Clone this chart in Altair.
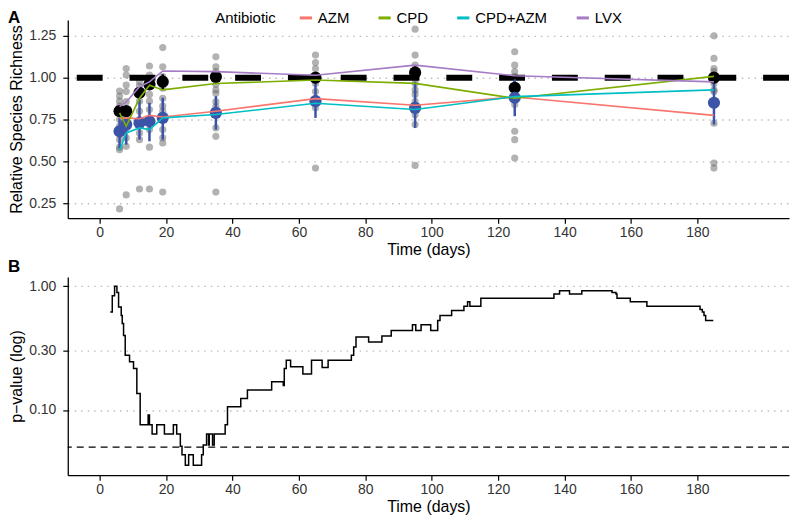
import altair as alt
import pandas as pd

FONT = "Liberation Sans"

# ---------------- Panel A data ----------------
days = [6, 8, 12, 15, 19, 35, 65, 95, 125, 185]

sample_values = [
    [0.92, 0.89, 0.86, 0.83, 0.79, 0.75, 0.71, 0.66, 0.63, 0.585, 0.57, 0.216],
    [1.055, 1.016, 0.956, 0.917, 0.857, 0.80, 0.76, 0.70, 0.64, 0.59, 0.30],
    [0.976, 0.95, 0.90, 0.86, 0.80, 0.75, 0.72, 0.67, 0.63, 0.335],
    [1.07, 1.016, 0.956, 0.90, 0.86, 0.81, 0.76, 0.69, 0.585, 0.335],
    [1.18, 1.065, 1.006, 0.937, 0.877, 0.83, 0.80, 0.69, 0.64, 0.61, 0.317],
    [1.125, 1.065, 1.036, 0.96, 0.927, 0.907, 0.857, 0.827, 0.70, 0.65, 0.317],
    [1.135, 1.09, 1.055, 1.006, 0.966, 0.917, 0.877, 0.857, 0.82, 0.46],
    [1.29, 1.135, 1.075, 1.0, 0.966, 0.927, 0.90, 0.857, 0.778, 0.72, 0.476],
    [1.155, 1.075, 1.036, 1.006, 0.956, 0.877, 0.84, 0.68, 0.63, 0.52],
    [1.25, 1.115, 1.055, 1.036, 1.006, 0.966, 0.927, 0.917, 0.728, 0.49, 0.46],
]

black_mean = [0.80, 0.80, 0.91, 0.96, 0.976, 1.005, 1.0, 1.03, 0.94, 1.0]
black_lo = [0.78, 0.77, 0.88, 0.93, 0.93, 0.98, 0.97, 0.99, 0.89, 0.97]
black_hi = [0.82, 0.83, 0.94, 0.99, 1.02, 1.03, 1.03, 1.07, 0.99, 1.03]

blue_mean = [0.68, 0.72, 0.73, 0.74, 0.76, 0.79, 0.86, 0.82, 0.88, 0.85]
blue_lo = [0.58, 0.60, 0.63, 0.62, 0.63, 0.69, 0.76, 0.70, 0.77, 0.72]
blue_hi = [0.76, 0.82, 0.87, 0.85, 0.88, 0.89, 0.976, 0.976, 0.99, 1.0]

antibiotics = ["AZM", "CPD", "CPD+AZM", "LVX"]
antibiotic_colors = ["#F8766D", "#7CAE00", "#00BFC4", "#A57CC5"]
azm_mean = [0.755, 0.76, 0.755, 0.775, 0.765, 0.80, 0.875, 0.835, 0.885, 0.775]
cpd_mean = [0.79, 0.71, 0.877, 0.955, 0.927, 0.965, 0.986, 0.966, 0.877, 1.008]
cpd_azm_mean = [0.565, 0.67, 0.70, 0.69, 0.76, 0.78, 0.847, 0.81, 0.887, 0.927]
lvx_mean = [0.827, 0.855, 0.946, 0.975, 1.04, 1.036, 1.015, 1.075, 1.012, 0.975]

richness_ticks = [0.25, 0.50, 0.75, 1.00, 1.25]
time_ticks = [0, 20, 40, 60, 80, 100, 120, 140, 160, 180]

# ---------------- Panel B data ----------------
p_days = [3.2, 3.8, 4.5, 5.2, 5.7, 6.5, 6.8, 7.2, 7.7, 9.0, 10.2, 11.2, 12.2,
          14.6, 15.0, 15.8, 17.2, 19.5, 22.2, 23.2, 24.3, 24.8, 25.8, 26.8,
          28.2, 30.7, 31.2, 32.2, 32.8, 33.0, 34.0, 34.5, 37.8, 38.5, 42.5,
          44.5, 51.8, 55.3, 55.6, 56.2, 57.5, 61.2, 63.8, 67.0, 68.8, 75.8,
          76.5, 77.2, 81.0, 85.0, 87.8, 94.2, 95.2, 96.8, 99.7, 101.8, 102.5,
          106.0, 109.7, 110.8, 111.5, 114.8, 136.8, 138.5, 141.5, 145.2,
          154.3, 155.5, 155.8, 159.8, 164.8, 180.8, 181.5, 182.0, 182.5, 184.8]
p_values = [0.62, 0.84, 1.0, 0.89, 0.68, 0.58, 0.50, 0.40, 0.277, 0.245, 0.216,
            0.136, 0.076, 0.091, 0.076, 0.064, 0.076, 0.064, 0.076, 0.064,
            0.0508, 0.0435, 0.0357, 0.0435, 0.0357, 0.0435, 0.052, 0.064,
            0.052, 0.064, 0.052, 0.064, 0.076, 0.106, 0.124, 0.145, 0.169,
            0.158, 0.216, 0.252, 0.224, 0.195, 0.252, 0.22, 0.252, 0.277,
            0.323, 0.389, 0.355, 0.397, 0.44, 0.489, 0.44, 0.489, 0.44, 0.53,
            0.58, 0.637, 0.69, 0.75, 0.69, 0.80, 0.867, 0.92, 0.867, 0.92,
            0.89, 0.867, 0.80, 0.75, 0.69, 0.65, 0.62, 0.58, 0.53, 0.53]
p_ticks = [0.1, 0.3, 1.0]
p_threshold = 0.05

# ---------------- tables ----------------
samples_df = pd.DataFrame(
    [{"day": d, "value": v} for d, vals in zip(days, sample_values) for v in vals]
)
means_df = pd.DataFrame({
    "day": days,
    "black_mean": black_mean, "black_lo": black_lo, "black_hi": black_hi,
    "blue_mean": blue_mean, "blue_lo": blue_lo, "blue_hi": blue_hi,
})
lines_df = pd.DataFrame(
    [{"day": d, "value": v, "Antibiotic": ab}
     for ab, series in zip(antibiotics, [azm_mean, cpd_mean, cpd_azm_mean, lvx_mean])
     for d, v in zip(days, series)]
)
p_df = pd.DataFrame({"day": p_days, "p": p_values})

W = 724
H = 199
XDOM = [-9.6, 207.6]
BLUE = "#3B54A8"

x_a = alt.X("day:Q", scale=alt.Scale(domain=XDOM, nice=False, zero=False),
            axis=alt.Axis(values=time_ticks, title="Time (days)", grid=False,
                          format="d"))
y_a = alt.Y("value:Q", scale=alt.Scale(domain=[0.161, 1.345], nice=False, zero=False),
            axis=alt.Axis(values=richness_ticks, format=".2f", grid=True,
                          title="Relative Species Richness"))

base_a = alt.Chart(samples_df)
gray_pts = base_a.mark_circle(size=52, color="#666666", opacity=0.5).encode(x=x_a, y=y_a)

hline = alt.Chart(pd.DataFrame({"value": [1.0]})).mark_rule(
    color="black", strokeWidth=6, strokeDash=[26, 27]
).encode(y=alt.Y("value:Q"))

mean_base = alt.Chart(means_df)
black_err = mean_base.mark_rule(color="black", strokeWidth=2.5).encode(
    x="day:Q", y="black_lo:Q", y2="black_hi:Q")
blue_err = mean_base.mark_rule(color=BLUE, strokeWidth=2.5).encode(
    x="day:Q", y="blue_lo:Q", y2="blue_hi:Q")
black_pts = mean_base.mark_circle(size=150, color="black", opacity=1).encode(
    x="day:Q", y="black_mean:Q")
blue_pts = mean_base.mark_circle(size=150, color=BLUE, opacity=1).encode(
    x="day:Q", y="blue_mean:Q")

lines = alt.Chart(lines_df).mark_line(strokeWidth=1.6).encode(
    x="day:Q", y="value:Q",
    color=alt.Color("Antibiotic:N",
                    scale=alt.Scale(domain=antibiotics, range=antibiotic_colors),
                    legend=alt.Legend(orient="none", direction="horizontal",
                                      legendX=148, legendY=-10, titleOrient="left",
                                      symbolType="stroke", symbolStrokeWidth=3,
                                      symbolSize=150, columnPadding=22,
                                      titlePadding=22, labelFontSize=15,
                                      titleFontSize=15, titleFontWeight="normal",
                                      labelFont=FONT, titleFont=FONT,
                                      titleColor="black", labelColor="black",
                                      padding=0, offset=0)))

label_a = alt.Chart(pd.DataFrame({"t": ["A"]})).mark_text(
    align="left", baseline="top", fontSize=17, fontWeight="bold", font=FONT,
    color="black").encode(x=alt.value(-60), y=alt.value(-10), text="t:N")

panel_a = alt.layer(gray_pts, hline, black_err, blue_err, black_pts, blue_pts,
                    lines, label_a).properties(width=W, height=H)

# ---------------- Panel B ----------------
x_b = alt.X("day:Q", scale=alt.Scale(domain=XDOM, nice=False, zero=False),
            axis=alt.Axis(values=time_ticks, title="Time (days)", grid=False,
                          format="d"))
y_b = alt.Y("p:Q", scale=alt.Scale(type="log", domain=[0.0297, 1.19], nice=False),
            axis=alt.Axis(values=p_ticks, format=".2f", grid=True,
                          title="p\u2212value (log)"))

p_line = alt.Chart(p_df).mark_line(color="black", strokeWidth=1.5,
                                   interpolate="step-after").encode(x=x_b, y=y_b)
p_rule = alt.Chart(pd.DataFrame({"p": [p_threshold]})).mark_rule(
    color="black", strokeWidth=1.2, strokeDash=[7, 5]).encode(y="p:Q")
label_b = alt.Chart(pd.DataFrame({"t": ["B"]})).mark_text(
    align="left", baseline="top", fontSize=17, fontWeight="bold", font=FONT,
    color="black").encode(x=alt.value(-60), y=alt.value(-18), text="t:N")

panel_b = alt.layer(p_line, p_rule, label_b).properties(width=W, height=H)

chart = alt.vconcat(panel_a, panel_b, spacing=1).properties(padding=0).configure_view(
    stroke=None
).configure_axis(
    domainColor="black", domainWidth=1.3, tickColor="black", tickWidth=1.2,
    tickSize=5, labelFont=FONT, labelFontSize=14, labelColor="#333333",
    titleFont=FONT, titleFontSize=16, titleFontWeight="normal", titleColor="black",
    gridColor="#bdbdbd", gridDash=[1.5, 5], gridWidth=1.4,
).configure_axisY(
    labelPadding=7, titlePadding=4
).configure_axisX(
    labelPadding=2, titlePadding=2
)

chart.save("out.html", embed_options={"renderer": "svg", "actions": False})
